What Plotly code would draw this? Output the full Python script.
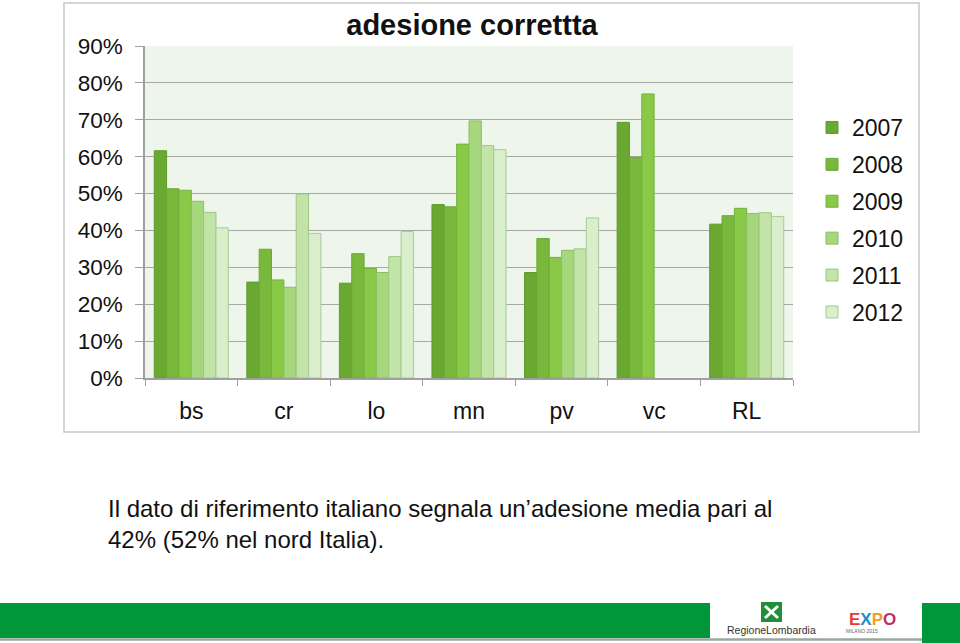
import plotly.graph_objects as go

categories = ["bs", "cr", "lo", "mn", "pv", "vc", "RL"]
years = ["2007", "2008", "2009", "2010", "2011", "2012"]
values = {
    "2007": [0.616, 0.260, 0.257, 0.470, 0.286, 0.693, 0.417],
    "2008": [0.513, 0.349, 0.337, 0.464, 0.378, 0.598, 0.440],
    "2009": [0.509, 0.266, 0.297, 0.634, 0.327, 0.770, 0.460],
    "2010": [0.479, 0.246, 0.286, 0.697, 0.346, None, 0.446],
    "2011": [0.449, 0.499, 0.329, 0.630, 0.350, None, 0.448],
    "2012": [0.407, 0.392, 0.397, 0.619, 0.434, None, 0.438],
}
y_ticks = [0, 0.1, 0.2, 0.3, 0.4, 0.5, 0.6, 0.7, 0.8, 0.9]
title_text = "adesione correttta"
note_text = "Il dato di riferimento italiano segnala un\u2019adesione media pari al<br>42% (52% nel nord Italia)."

fills = ["#6aa832", "#79b83c", "#89c947", "#a6d77c", "#c3e4a9", "#d9eecb"]
edges = ["#5e9a2c", "#6aa833", "#74b13a", "#8cbf62", "#9cc683", "#a9c998"]

W, H = 960, 643
def px(x):
    return x / W
def py(y):
    return 1 - y / H

FONT = "Arial, Liberation Sans, sans-serif"

fig = go.Figure()
for i, yr in enumerate(years):
    fig.add_trace(go.Bar(
        name=yr, x=categories, y=values[yr],
        marker=dict(color=fills[i], line=dict(color=edges[i], width=1)),
        legendgroup=yr, hoverinfo="skip",
    ))

GREEN = "#00963a"
shapes = [
    dict(type="rect", xref="paper", yref="paper", x0=px(64), x1=px(919), y0=py(432), y1=py(3),
         line=dict(color="#c8c8c8", width=1.5), fillcolor="rgba(0,0,0,0)", layer="below"),
    dict(type="rect", xref="paper", yref="paper", x0=0, x1=px(710), y0=py(638), y1=py(603),
         line=dict(width=0), fillcolor=GREEN),
    dict(type="line", xref="paper", yref="paper", x0=0, x1=px(922), y0=py(639.5), y1=py(639.5),
         line=dict(color="#9aa79e", width=2.5)),
    dict(type="rect", xref="paper", yref="paper", x0=px(922), x1=1, y0=0, y1=py(603),
         line=dict(width=0), fillcolor=GREEN),
    dict(type="rect", xref="paper", yref="paper", x0=px(761), x1=px(782), y0=py(622), y1=py(602),
         line=dict(width=0), fillcolor="#1f8f3a"),
    dict(type="line", xref="paper", yref="paper", x0=px(765), x1=px(778), y0=py(606), y1=py(618),
         line=dict(color="white", width=3)),
    dict(type="line", xref="paper", yref="paper", x0=px(765), x1=px(778), y0=py(618), y1=py(606),
         line=dict(color="white", width=3)),
]

annotations = [
    dict(text=note_text, xref="paper", yref="paper", x=px(106), y=py(493), xanchor="left", yanchor="top",
         align="left", showarrow=False, font=dict(family=FONT, size=24, color="#111111")),
    dict(text="RegioneLombardia", xref="paper", yref="paper", x=px(771.5), y=py(630),
         xanchor="center", yanchor="middle", showarrow=False,
         font=dict(family=FONT, size=10.5, color="#333333")),
    dict(text="<b><span style='color:#e63c2f'>E</span><span style='color:#1d8fd1'>X</span><span style='color:#f0a020'>P</span><span style='color:#c0306a'>O</span></b>",
         xref="paper", yref="paper", x=px(872), y=py(619), xanchor="center", yanchor="middle", showarrow=False,
         font=dict(family=FONT, size=17, color="#333")),
    dict(text="MILANO 2015", xref="paper", yref="paper", x=px(862), y=py(631), xanchor="center",
         yanchor="middle", showarrow=False, font=dict(family=FONT, size=5, color="#666")),
]

fig.update_layout(
    width=W, height=H,
    margin=dict(l=0, r=0, t=0, b=0, pad=0, autoexpand=False),
    paper_bgcolor="white",
    plot_bgcolor="#eef6ec",
    barmode="group", bargap=0.2, bargroupgap=0,
    font=dict(family=FONT, color="#222222"),
    title=dict(text="<b>" + title_text + "</b>", x=px(472), xanchor="center", y=py(25), yanchor="middle",
               font=dict(family=FONT, size=29, color="#111111"), automargin=False),
    xaxis=dict(domain=[px(145), px(793)], type="category", automargin=False,
               showline=True, linecolor="#a0a0a0", linewidth=1.5,
               ticks="outside", tickson="boundaries", ticklen=6, tickcolor="#a0a0a0",
               tickfont=dict(family=FONT, size=23, color="#111111"), ticklabelstandoff=12,
               showgrid=False),
    yaxis=dict(domain=[py(378), py(46)], range=[0, 0.9], tickvals=y_ticks, tickformat=".0%",
               automargin=False,
               showline=True, linecolor="#a0a0a0", linewidth=1.5,
               ticks="outside", ticklen=8, tickcolor="#a0a0a0",
               showgrid=True, gridcolor="#a8a8a8", gridwidth=1.2,
               tickfont=dict(family=FONT, size=22.5, color="#111111"), ticklabelstandoff=8,
               zeroline=False),
    legend=dict(x=px(812), y=py(106), xanchor="left", yanchor="top",
                font=dict(family=FONT, size=23, color="#111111"),
                bgcolor="rgba(0,0,0,0)", traceorder="grouped", tracegroupgap=4, itemwidth=30),
    shapes=shapes,
    annotations=annotations,
)

fig.write_html("out.html", config={"displayModeBar": False},
               post_script="document.body.style.margin='0px';document.body.style.overflow='hidden';")
